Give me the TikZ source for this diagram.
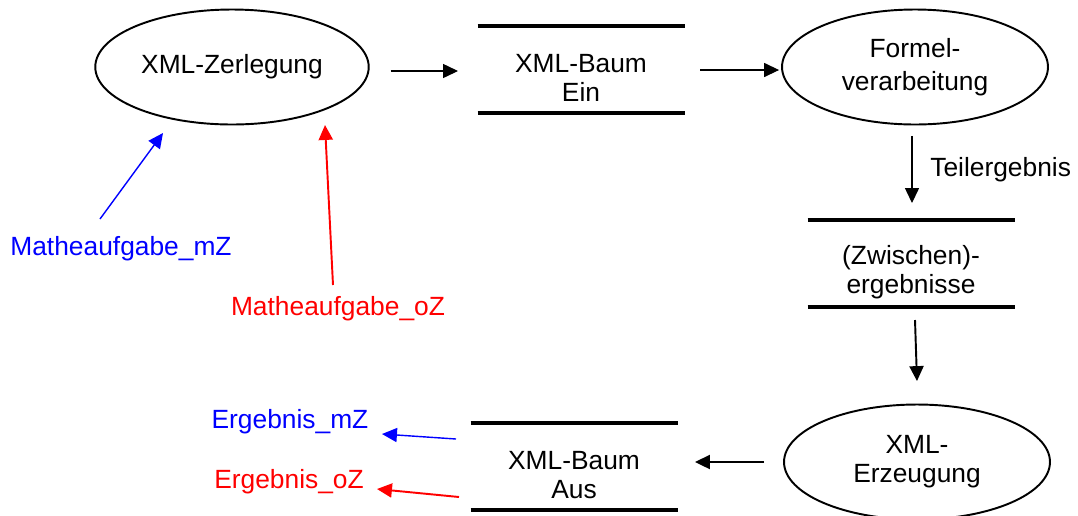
\documentclass[tikz,border=0pt]{standalone}
\usepackage{fontspec}
\setmainfont{Liberation Sans}
\usetikzlibrary{arrows.meta}
\usetikzlibrary{shapes.geometric}
\usetikzlibrary{positioning}

\tikzset{
    proc/.style={ellipse, draw, line width=1.1pt, minimum width=5.32cm, minimum height=2.3cm, align=center},
    store/.style={minimum width=4.14cm, align=center},
    storebar/.style={line width=2.8pt},
    flowarrow/.style={line width=0.6pt, -{Triangle[length=8.5pt,width=8pt]}},
}

\begin{document}
\begin{tikzpicture}[x=0.02cm, y=-0.02cm, font=\fontsize{15}{16.5}\selectfont]
    \useasboundingbox (0,0) rectangle (1078,515);

    \node[proc] (zerl) at (232,67) {XML-Zerlegung};
    \node[store] (ein) at (581,78) {XML-Baum\\Ein};
    \node[proc] (formel) at (915,67) {Formel-\\[2.2pt]verarbeitung};
    \node[store] (zw) at (911,272) {(Zwischen)-\\ergebnisse};
    \node[proc] (erz) at (917,462) {XML-\\Erzeugung};
    \node[store] (aus) at (574,475) {XML-Baum\\Aus};

    \node[color=blue] (mz) at (121,249) {Matheaufgabe\_mZ};
    \node[color=red] (oz) at (338,309) {Matheaufgabe\_oZ};
    \node[color=blue] (emz) at (290,422) {Ergebnis\_mZ};
    \node[color=red] (eoz) at (289,482) {Ergebnis\_oZ};

    % bars above and below the stores
    \foreach \s in {ein,zw,aus} {
        \draw[storebar] ([shift={(-103.5,-52)}]\s.center) -- ([shift={(103.5,-52)}]\s.center);
        \draw[storebar] ([shift={(-103.5,35)}]\s.center) -- ([shift={(103.5,35)}]\s.center);
    }

    \draw[flowarrow] ([shift={(21,4)}]zerl.east) -- ([shift={(-123,-7)}]ein.center);
    \draw[flowarrow] ([shift={(119,-8)}]ein.center) -- ([shift={(-2,3)}]formel.west);
    \draw[flowarrow] ([shift={(-3,10.5)}]formel.south) -- node[right=6.8pt] (teil) {Teilergebnis} ([shift={(1,-69)}]zw.center);
    \draw[flowarrow, line width=1.1pt] ([shift={(4,48)}]zw.center) -- ([shift={(0,-22.5)}]erz.north);
    \draw[flowarrow, line width=1.1pt] ([shift={(-19,0)}]erz.west) -- ([shift={(121,-13)}]aus.center);

    \draw[flowarrow, color=blue, line width=0.8pt] ([shift={(-118,-36)}]aus.center) -- ([shift={(92,12)}]emz.center);
    \draw[flowarrow, color=red, line width=1.1pt] ([shift={(-115,22)}]aus.center) -- ([shift={(88,7)}]eoz.center);
    \draw[flowarrow, color=blue, line width=0.8pt] ([shift={(-21,-30)}]mz.center) -- ([shift={(-69,66)}]zerl.center);
    \draw[flowarrow, color=red, line width=1.1pt] ([shift={(-5,-24)}]oz.center) -- ([shift={(93,58)}]zerl.center);

\end{tikzpicture}
\end{document}
